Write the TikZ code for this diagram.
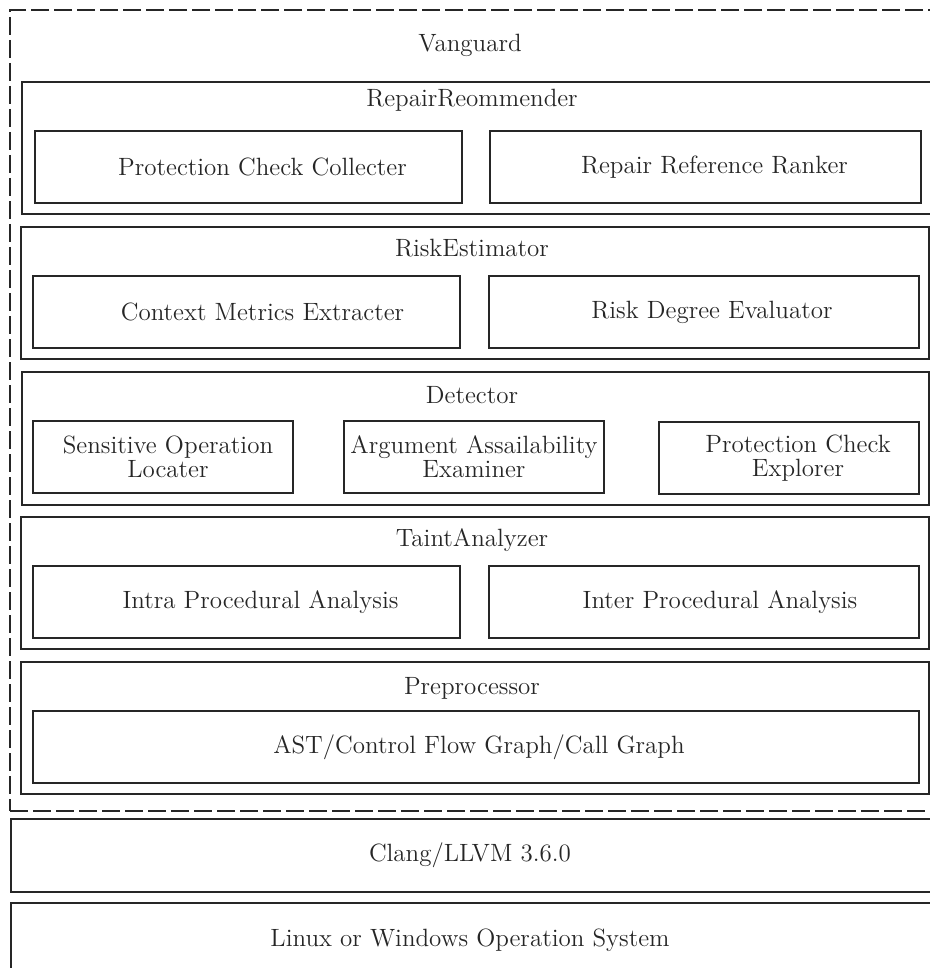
\documentclass[tikz,border=0pt]{standalone}
\newcommand\sh[1]{\hspace*{#1pt}}
\begin{document}
\begin{tikzpicture}[x=0.5pt,y=-0.5pt,
  every node/.style={font=\fontsize{12.5}{12}\selectfont, text=black!85},
  layer/.style={draw=black!85, line width=0.7pt, inner sep=0pt, outer sep=0pt},
  part/.style={draw=black!85, line width=0.75pt, inner sep=0pt, outer sep=0pt, align=center},
  lbl/.style={inner sep=0pt},
  outerdash/.style={draw=black!85, line width=0.75pt, dash pattern=on 9pt off 2.5pt, inner sep=0pt, outer sep=0pt}]
\clip (0,0) rectangle (930,968);
\useasboundingbox (0,0) rectangle (930,968);
% Vanguard dashed frame
\node[outerdash, minimum width=465pt, minimum height=400.5pt] (vanguard) at (475,410.5) {};
\node[lbl] (vlabel) at (470,45) {Vanguard};
% RepairReommender
\node[layer, minimum width=456.5pt, minimum height=66pt] (rr) at (478.5,148) {};
\node[lbl] (rrl) at (472,100) {RepairReommender};
\node[part, minimum width=213.5pt, minimum height=36pt] (pcc) at (248.5,167) {\sh{14}Protection Check Collecter};
\node[part, minimum width=215.5pt, minimum height=36pt] (rrr) at (705.5,167) {\sh{9}Repair Reference Ranker};
% RiskEstimator
\node[layer, minimum width=454pt, minimum height=66pt] (re) at (475,293) {};
\node[lbl] (rel) at (472,248) {RiskEstimator};
\node[part, minimum width=213.5pt, minimum height=36pt] (cme) at (246.5,312) {\sh{16}Context Metrics Extracter};
\node[part, minimum width=215pt, minimum height=36pt] (rde) at (704,312) {\sh{8}Risk Degree Evaluator};
% Detector
\node[layer, minimum width=453.5pt, minimum height=66.5pt] (det) at (475.5,438.5) {};
\node[lbl] (detl) at (472,395) {Detector};
\node[part, minimum width=130pt, minimum height=36pt] (sol) at (163,457) {\sh{5}Sensitive Operation\\\sh{5}Locater};
\node[part, minimum width=130pt, minimum height=36pt] (aae) at (474,457) {Argument Assailability\\Examiner};
\node[part, minimum width=130pt, minimum height=36pt] (pce) at (789,458) {\sh{9}Protection Check\\\sh{9}Explorer};
% TaintAnalyzer
\node[layer, minimum width=454pt, minimum height=66pt] (ta) at (475,583) {};
\node[lbl] (tal) at (472,540) {TaintAnalyzer};
\node[part, minimum width=213.5pt, minimum height=36pt] (intra) at (246.5,602) {\sh{14}Intra Procedural Analysis};
\node[part, minimum width=215pt, minimum height=36pt] (inter) at (704,602) {\sh{16}Inter Procedural Analysis};
% Preprocessor
\node[layer, minimum width=454pt, minimum height=66pt] (pre) at (475,728) {};
\node[lbl] (prel) at (472,688) {Preprocessor};
\node[part, minimum width=443pt, minimum height=36pt] (ast) at (476,747) {\sh{3}AST/Control Flow Graph/Call Graph};
% Clang / LLVM
\node[layer, minimum width=464.5pt, minimum height=36.5pt] (clang) at (475.5,855.5) {};
\node[lbl] (clangl) at (470,855) {Clang/LLVM 3.6.0};
% OS
\node[layer, minimum width=464.5pt, minimum height=38.5pt] (os) at (475.5,941.5) {};
\node[lbl] (osl) at (470,940) {Linux or Windows Operation System};
\end{tikzpicture}
\end{document}
